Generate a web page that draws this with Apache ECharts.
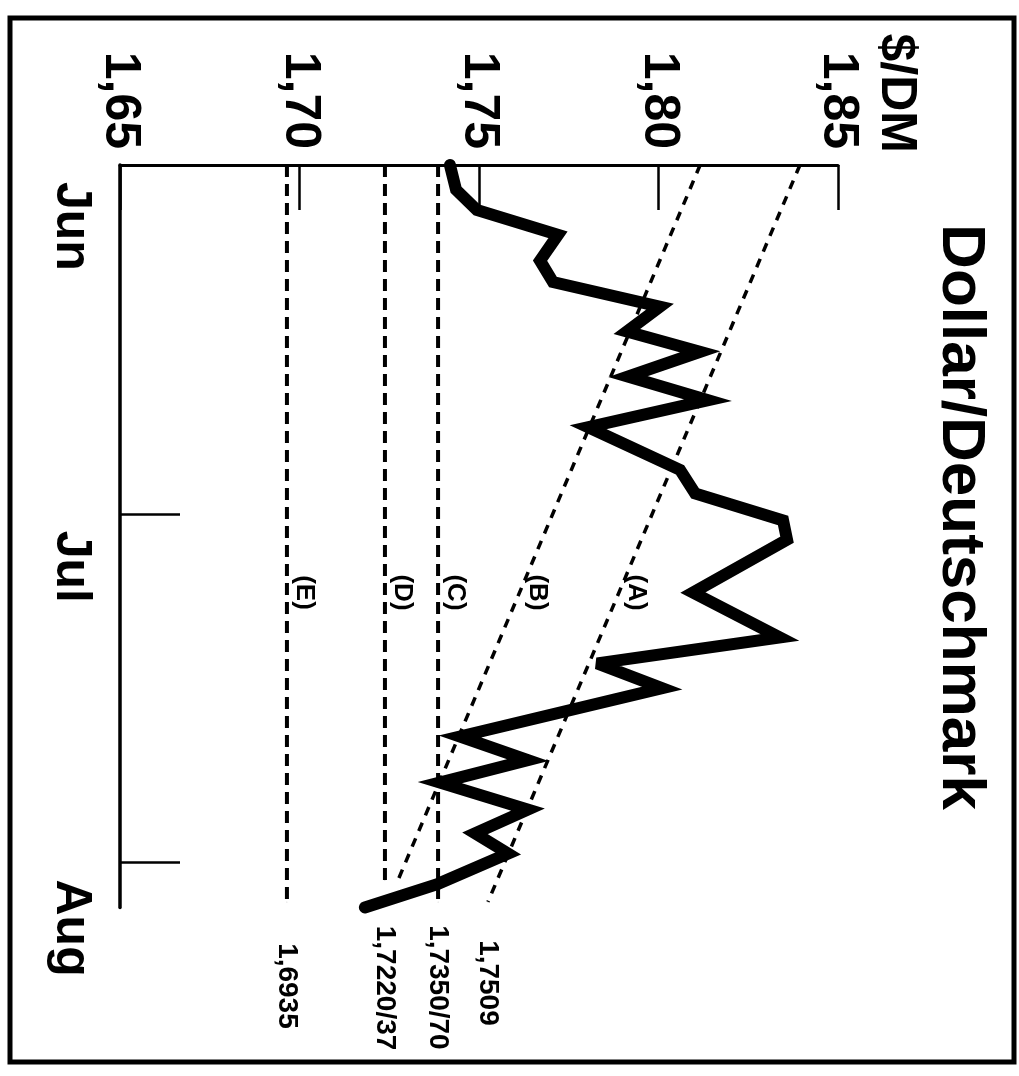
<!DOCTYPE html>
<html><head><meta charset="utf-8">
<script src="https://cdn.jsdelivr.net/npm/echarts@6/dist/echarts.min.js"></script>
<style>html,body{margin:0;padding:0;background:#fff;}#c{width:1019px;height:1076px;}</style>
</head><body><div id="c"></div>
<script>
// ---- data ----
const chartTitle = 'Dollar/Deutschmark';
const unitLabel = '$/DM';
const months = ['Jun', 'Jul', 'Aug'];
const monthDays = [0, 31, 62];            // day index of month ticks
const rateTicks = [1.65, 1.70, 1.75, 1.80, 1.85];
const rateDays = [0, 2.2, 4.0, 6.2, 8.5, 10.4, 12.6, 14.8, 16.6, 18.8, 20.9, 23.3, 27.1, 29.2,
  31.6, 33.3, 38.0, 42.0, 44.3, 46.5, 50.8, 52.9, 54.9, 57.3, 59.4, 61.2, 63.9, 66.0];
const rateValues = [1.7419, 1.7436, 1.7494, 1.7720, 1.7670, 1.7706, 1.8004, 1.7912, 1.8116, 1.7915,
  1.8138, 1.7804, 1.8060, 1.8102, 1.8347, 1.8358, 1.8096, 1.8338, 1.7829, 1.8010, 1.7447, 1.7636,
  1.7391, 1.7636, 1.7489, 1.7581, 1.7386, 1.7182];
const guideNames = ['(A)', '(B)', '(C)', '(D)', '(E)'];
const guideStart = [1.8394, 1.8116, 1.7386, 1.7238, 1.6965];
const guideEnd = [1.7525, 1.7274, 1.7386, 1.7238, 1.6965];
const guideEndDay = [65.5, 63.6, 65.5, 63.6, 65.5];
const guideEndLabels = ['1,7509', '', '1,7350/70', '1,7220/37', '1,6935'];
const guideLabelDay = 38;

// ---- styles ----
const FONT = '"Liberation Sans", Arial, Helvetica, sans-serif';
const endLabelGap = [38, 0, 23, 45, 41];

const chart = echarts.init(document.getElementById('c'), null, {renderer: 'canvas'});

const guideSeries = guideNames.map((nm, i) => ({
  type: 'line', name: nm, symbol: 'none', silent: true, clip: false, z: 3,
  data: [[guideStart[i], 0], [guideEnd[i], guideEndDay[i]]],
  lineStyle: {color: '#000', width: i < 2 ? 3.5 : 4, type: i < 2 ? [9, 8] : [12, 7]}
}));

const letterData = guideNames.map((nm, i) => {
  const f = guideLabelDay / guideEndDay[i];
  return {name: nm, value: [guideStart[i] + (guideEnd[i] - guideStart[i]) * f, guideLabelDay]};
});

const endData = guideEndLabels.map((txt, i) => ({
  name: txt, value: [guideEnd[i], guideEndDay[i]],
  label: {distance: endLabelGap[i]}
})).filter(d => d.name !== '');

const option = {
  backgroundColor: '#fff',
  animation: false,
  grid: {left: 120, top: 165, width: 718, height: 742.5, outerBoundsMode: 'none', containLabel: false},
  xAxis: {
    type: 'value', position: 'top', min: 1.65, max: 1.85, interval: 0.05,
    axisLine: {show: true, onZero: false, lineStyle: {color: '#000', width: 3}},
    axisTick: {show: true, inside: true, length: 45, lineStyle: {color: '#000', width: 2.5}},
    splitLine: {show: false},
    axisLabel: {
      show: true, rotate: 90, margin: 16, color: '#000',
      fontFamily: FONT, fontSize: 50, fontWeight: 'bold',
      align: 'right', verticalAlign: 'middle', showMinLabel: true, showMaxLabel: true,
      hideOverlap: false,
      formatter: v => v.toFixed(2).replace('.', ',')
    }
  },
  yAxis: {
    type: 'value', inverse: true, min: 0, max: 66,
    axisLine: {show: true, onZero: false, lineStyle: {color: '#000', width: 3.5}},
    axisTick: {show: true, inside: true, length: 60, customValues: monthDays,
      lineStyle: {color: '#000', width: 2.5}},
    splitLine: {show: false},
    axisLabel: {
      show: true, rotate: -90, margin: 24, color: '#000', customValues: monthDays,
      fontFamily: FONT, fontSize: 50, fontWeight: 'bold',
      align: 'left', verticalAlign: 'top', padding: [0, 0, 0, 17], hideOverlap: false,
      formatter: v => months[monthDays.indexOf(v)]
    }
  },
  graphic: [
    {type: 'text', x: 960, y: 517, rotation: -Math.PI / 2, silent: true,
      style: {text: chartTitle, fill: '#000', fontFamily: FONT, fontSize: 62, fontWeight: 'bold',
        align: 'center', verticalAlign: 'middle', textAlign: 'center', textVerticalAlign: 'middle'}},
    {type: 'text', x: 896, y: 153, rotation: -Math.PI / 2, silent: true,
      style: {text: unitLabel, fill: '#000', fontFamily: FONT, fontSize: 50, fontWeight: 'bold',
        align: 'right', verticalAlign: 'middle', textAlign: 'right', textVerticalAlign: 'middle'}},
    {type: 'rect', silent: true, shape: {x: 10, y: 18, width: 1004, height: 1044},
      style: {fill: 'none', stroke: '#000', lineWidth: 5}}
  ],
  series: [
    ...guideSeries,
    {
      type: 'line', name: 'rate', symbol: 'none', silent: true, clip: false, z: 5,
      data: rateValues.map((v, i) => [v, rateDays[i]]),
      lineStyle: {color: '#000', width: 12, join: 'miter', miterLimit: 4, cap: 'round'}
    },
    {
      type: 'scatter', name: 'letters', symbolSize: 0.5, silent: true, z: 6,
      itemStyle: {color: '#000', opacity: 1},
      data: letterData,
      label: {show: true, position: 'right', distance: 4, rotate: -90, formatter: '{b}',
        align: 'center', verticalAlign: 'bottom', color: '#000', opacity: 1,
        fontFamily: FONT, fontSize: 26, fontWeight: 'bold'}
    },
    {
      type: 'scatter', name: 'endLabels', symbolSize: 0.5, silent: true, z: 6,
      itemStyle: {color: '#000', opacity: 1},
      data: endData,
      label: {show: true, position: 'bottom', rotate: -90, formatter: '{b}',
        align: 'left', verticalAlign: 'middle', color: '#000', opacity: 1,
        fontFamily: FONT, fontSize: 28, fontWeight: 'bold'}
    }
  ]
};
chart.setOption(option);
</script>
</body></html>
